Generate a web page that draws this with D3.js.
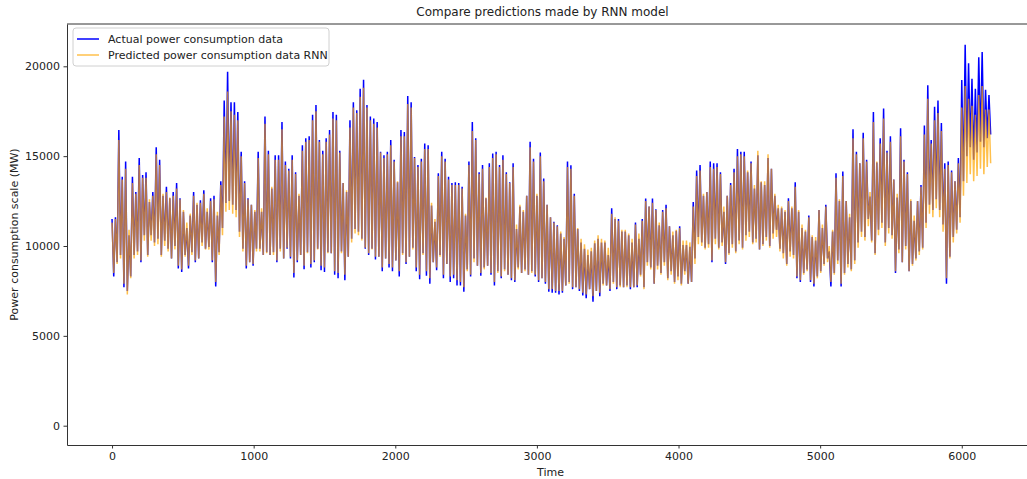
<!DOCTYPE html>
<html lang="en">
<head>
    <meta charset="UTF-8">
    <title>Compare predictions made by RNN model</title>
    <script src="https://d3js.org/d3.v7.min.js"></script>
    <style>
        body {
            margin: 0;
            background: #fff;
        }
        svg text {
            font-family: 'DejaVu Sans', sans-serif;
            fill: #222;
        }
        .axis path,
        .axis line {
            stroke: #333;
        }
        .axis text {
            font-size: 11px;
        }
        .actual {
            fill: none;
            stroke: #0000ff;
            stroke-width: 1.5;
        }
        .predicted {
            fill: none;
            stroke: #ffa500;
            stroke-width: 1.5;
            stroke-opacity: 0.7;
        }
    </style>
</head>
<body>
    <svg width="1027" height="479"></svg>

    <script>
        // one high and one low reading per day (24 time steps)
        const stepsPerDay = 24;

        const actualHigh = [
            11500, 11600, 16450, 13850, 14700, 10600, 13850, 13000, 14900, 13950,
            14100, 12450, 13000, 15500, 14800, 12800, 13300, 12650, 13000, 13500,
            12650, 11900, 11000, 11700, 13000, 12300, 12550, 13100, 11900, 12650,
            12800, 11700, 13600, 18100, 19700, 18000, 18000, 17450, 15250, 13600,
            12650, 12300, 11900, 15250, 11900, 17200, 15300, 13200, 15050, 15050,
            16900,
            14700, 14300, 15050, 14100, 12800, 15600, 16000, 16100, 17300, 17850,
            15900, 15300, 16000, 16450, 17450, 17300, 15300, 13500, 13000, 17000,
            18000, 17550, 18750, 19250, 17850, 17200, 17100, 16900, 15250, 15050,
            15250, 15900, 14800, 13550, 16450, 16350, 18350, 18000, 14950, 14500,
            14850, 15700, 15600, 12250, 11350, 14050, 15250, 14850, 13850, 13500,
            13550,
            13500, 13300, 11700, 14700, 16900, 16000, 14100, 14500, 12650, 14600,
            15150, 15250, 14500, 15050, 14100, 13550, 14600, 10950, 12200, 11900,
            12800, 15800, 14850, 12800, 15200, 13750, 12300, 11600, 11350, 11150,
            10700, 10400, 14700, 14500, 12900, 10950, 10200, 9850, 9500, 9700,
            10150, 10400, 10200, 10200, 9500, 12100, 11500, 11500, 10800, 10800,
            10600, 10200,
            11300, 10400, 11500, 12640, 12200, 12640, 12050, 11150, 12000, 12300,
            11100, 10600, 10850, 11100, 10050, 10050, 9950, 12450, 14200, 14500,
            12800, 13000, 14700, 14600, 14600, 14100, 11900, 12800, 13500, 14300,
            15400, 15250, 15250, 14100, 14700, 13200, 15050, 13550, 13400, 14900,
            14300, 12800, 12100, 12100, 11900, 12650, 12100, 13550, 11900, 11000,
            10800, 11700,
            10500, 10300, 12000, 11000, 12300, 9700, 10800, 14050, 12500, 14150,
            12500, 11600, 16500, 15250, 14600, 16300, 14800, 12750, 17450, 14650,
            16000, 17650, 15300, 16100, 13700, 12700, 16550, 14800, 14100, 12500,
            11400, 12500, 13400, 16700, 18950, 15900, 17750, 18100, 16850, 14600,
            14700, 14200, 13600, 14900, 19240, 21200, 20170, 19300, 18750, 20500,
            20800, 18700, 18400
        ];

        const actualLow = [
            8300, 9100, 9500, 7700, 7500, 8300, 9500, 9700, 9100, 10600,
            9500, 10600, 10200, 10400, 9500, 10300, 9850, 9300, 10000, 8750,
            8550, 9500, 8750, 9650, 9100, 9300, 10200, 9850, 9950, 9100,
            7750, 9650, 11000, 12400, 12500, 12300, 12000, 10800, 9850, 8750,
            9100, 8900, 9850, 9850, 9500, 9650, 9500, 9650, 9100, 9850,
            9300,
            9850, 9300, 8250, 9100, 9500, 8700, 9650, 8800, 9100, 9850,
            8650, 8550, 9650, 9600, 8400, 8200, 9700, 8100, 9400, 10400,
            10950, 10800, 10400, 9850, 9500, 9850, 9250, 9400, 8600, 9300,
            8800, 8600, 9200, 8300, 9600, 9000, 9400, 9900, 8600, 8150,
            9600, 8350, 7900, 9100, 8650, 9500, 8200, 9000, 8000, 8200,
            7800,
            7800, 7450, 8700, 8300, 9300, 8900, 8350, 8800, 8900, 8400,
            7800, 8600, 8200, 8700, 8400, 8100, 8000, 8800, 8500, 8700,
            8400, 8600, 8300, 8000, 8200, 7900, 7450, 7400, 7400, 7300,
            7400, 7800, 8000, 7600, 7700, 7500, 7250, 7100, 7600, 6900,
            7500, 7200, 7900, 7800, 7500, 8000, 7600, 7800, 7700, 7800,
            7600, 7700,
            7700, 8400, 7700, 9100, 8800, 7900, 8900, 8500, 9100, 8200,
            8600, 8000, 8300, 7900, 8600, 7900, 8000, 9300, 10500, 10200,
            9900, 10100, 9100, 10400, 9900, 10200, 9000, 9600, 10100, 9700,
            10300, 9900, 10600, 10800, 10200, 10400, 9800, 10100, 10500, 10000,
            10700, 10900, 9850, 9600, 9000, 9700, 9500, 8200, 8000, 8500,
            8700, 8000,
            7750, 8300, 8600, 9000, 9300, 7750, 8500, 9200, 7750, 8500,
            9000, 8700, 9200, 10200, 10800, 10500, 11500, 10300, 9600, 10900,
            11300, 10200, 11000, 10600, 8500, 9800, 9100, 10000, 8600, 9000,
            9300, 9700, 9900, 11300, 12300, 12000, 12600, 12000, 11200, 7900,
            9400, 10500, 10900, 11600, 13600, 15000, 15500, 14800, 15200, 15800,
            15500, 16000, 16200
        ];

        const predHigh = [
            11300, 11500, 15900, 13700, 14300, 10900, 13500, 12900, 14500, 13800,
            13800, 12600, 12800, 15100, 14500, 12900, 13000, 12700, 12800, 13200,
            12600, 12000, 11300, 11800, 12800, 12400, 12400, 12900, 12100, 12500,
            12600, 11900, 13400, 17200, 18600, 17500, 17300, 17000, 15000, 13500,
            12600, 12300, 12000, 14900, 12100, 16800, 15100, 13300, 14800, 14800,
            16500,
            14500, 14200, 14800, 14000, 12900, 15300, 15800, 15900, 17000, 17500,
            15800, 15100, 15800, 16200, 17100, 17000, 15200, 13500, 13100, 16600,
            17700, 17400, 18300, 18800, 17700, 17000, 16800, 16600, 15200, 14900,
            15100, 15600, 14700, 13600, 16100, 16100, 17900, 17700, 14900, 14400,
            14700, 15400, 15400, 12400, 11500, 13900, 15000, 14700, 13700, 13400,
            13400,
            13400, 13200, 11800, 14500, 16400, 15900, 14000, 14300, 12700, 14400,
            14900, 15100, 14400, 14800, 14000, 13500, 14400, 11200, 12300, 12000,
            12800, 15500, 14700, 12900, 15000, 13600, 12300, 11600, 11300, 11100,
            10800, 10500, 14400, 14300, 12800, 11000, 10400, 10100, 9800, 9900,
            10300, 10600, 10400, 10300, 9900, 11800, 11600, 11400, 10900, 10900,
            10700, 10400,
            11200, 10700, 11400, 12500, 12200, 12400, 12000, 11300, 11900, 12100,
            11100, 10800, 10900, 11000, 10300, 10300, 10200, 12200, 13900, 14200,
            12900, 13000, 14400, 14300, 14400, 14000, 12200, 12800, 13400, 14100,
            15000, 15100, 15000, 14200, 14600, 13400, 15300, 13600, 13600, 15100,
            14300, 12900, 12300, 12200, 12000, 12500, 12200, 13300, 12000, 11200,
            10900, 11600,
            10600, 10500, 12000, 11200, 12200, 10000, 10900, 13800, 12600, 13900,
            12500, 11800, 16000, 15100, 14600, 16000, 14700, 13000, 16900, 14700,
            15700, 17100, 15200, 15800, 13700, 12900, 16100, 14700, 14000, 12600,
            11700, 12500, 13300, 16200, 18200, 15700, 17000, 17400, 16400, 14300,
            14500, 14100, 13600, 14600, 17700, 18900, 18200, 17800, 17300, 18400,
            18900, 17600, 17600
        ];

        const predLow = [
            8500, 9000, 9300, 7900, 7300, 8200, 9300, 9500, 9200, 10300,
            9400, 10300, 10000, 10100, 9400, 10000, 9700, 9300, 9800, 8900,
            8700, 9400, 8900, 9500, 9200, 9300, 10000, 9800, 9800, 9200,
            8000, 9500, 10600, 11900, 12000, 11800, 11600, 10500, 9700, 8900,
            9100, 9000, 9700, 9700, 9500, 9600, 9500, 9500, 9200, 9700,
            9300,
            9900, 9400, 8500, 9200, 9500, 8900, 9600, 9000, 9200, 9800,
            8900, 8800, 9600, 9600, 8600, 8500, 9600, 8400, 9400, 10200,
            10700, 10600, 10300, 9900, 9600, 9800, 9400, 9400, 8800, 9300,
            9000, 8800, 9200, 8600, 9500, 9100, 9400, 9800, 8800, 8400,
            9500, 8600, 8200, 9100, 8800, 9400, 8400, 9000, 8300, 8400,
            8100,
            8000, 7700, 8600, 8400, 9100, 8900, 8500, 8700, 8900, 8500,
            8000, 8500, 8300, 8600, 8400, 8200, 8100, 8700, 8500, 8600,
            8400, 8500, 8400, 8100, 8200, 8000, 7600, 7600, 7500, 7500,
            7500, 7800, 7900, 7700, 7700, 7600, 7400, 7300, 7600, 7200,
            7500, 7400, 7800, 7800, 7600, 7900, 7700, 7700, 7700, 7700,
            7700, 7700,
            7800, 8300, 7600, 8900, 8700, 7900, 8700, 8400, 8900, 8100,
            8400, 7900, 8100, 7800, 8400, 7900, 8000, 9000, 10100, 10000,
            9800, 9900, 9200, 10100, 9800, 10000, 9100, 9500, 9900, 9600,
            10100, 9800, 10300, 10500, 10100, 10200, 9800, 10000, 10300, 9900,
            10400, 10500, 9700, 9300, 8900, 9400, 9300, 8300, 8100, 8400,
            8600, 8100,
            7900, 8200, 8500, 8900, 9100, 8000, 8400, 9000, 7900, 8400,
            8800, 8600, 9000, 9900, 10500, 10300, 11100, 10200, 9500, 10600,
            11000, 10000, 10700, 10400, 8600, 9600, 9100, 9800, 8600, 8900,
            9200, 9500, 9800, 11000, 11800, 11600, 12100, 11600, 10800, 8200,
            9300, 10200, 10700, 11300, 12800, 13500, 14000, 13600, 13900, 14300,
            14000, 14400, 14600
        ];

        const xTicks = [0, 1000, 2000, 3000, 4000, 5000, 6000];
        const yTicks = [0, 5000, 10000, 15000, 20000];

        const svg = d3.select("svg");

        // plot frame; right edge runs past the window like the original
        const frame = {left: 67, right: 1034, top: 24, bottom: 445};

        const x = d3.scaleLinear().domain([-318, 6510]).range([frame.left, frame.right]);
        const y = d3.scaleLinear().domain([-1074, 22354]).range([frame.bottom, frame.top]);

        // turn the daily readings into a time ordered series
        function toSeries(high, low) {
            const pts = [];
            high.forEach(function (h, i) {
                pts.push({t: i * stepsPerDay, v: h});
                pts.push({t: i * stepsPerDay + stepsPerDay / 2, v: low[i]});
            });
            return pts;
        }

        const actual = toSeries(actualHigh, actualLow);
        const predicted = toSeries(predHigh, predLow);

        const line = d3.line()
            .x(function (d) { return x(d.t); })
            .y(function (d) { return y(d.v); });

        svg.append("path")
            .datum(actual)
            .attr("class", "actual")
            .attr("d", line);

        svg.append("path")
            .datum(predicted)
            .attr("class", "predicted")
            .attr("d", line);

        // axes
        svg.append("g")
            .attr("class", "axis")
            .attr("transform", "translate(0," + frame.bottom + ")")
            .call(d3.axisBottom(x)
                .tickValues(xTicks)
                .tickFormat(d3.format("d"))
                .tickSizeInner(3.5)
                .tickSizeOuter(0)
                .tickPadding(3.5));

        svg.append("g")
            .attr("class", "axis")
            .attr("transform", "translate(" + frame.left + ",0)")
            .call(d3.axisLeft(y)
                .tickValues(yTicks)
                .tickFormat(d3.format("d"))
                .tickSizeInner(3.5)
                .tickSizeOuter(0)
                .tickPadding(3.5));

        svg.append("line")
            .attr("x1", frame.left).attr("x2", frame.right)
            .attr("y1", frame.top).attr("y2", frame.top)
            .attr("stroke", "#333");

        // labels
        const midX = (frame.left + frame.right) / 2;

        svg.append("text")
            .attr("x", midX - 8)
            .attr("y", 16)
            .attr("text-anchor", "middle")
            .style("font-size", "12px")
            .text("Compare predictions made by RNN model");

        svg.append("text")
            .attr("x", midX)
            .attr("y", 476)
            .attr("text-anchor", "middle")
            .style("font-size", "11px")
            .text("Time");

        svg.append("text")
            .attr("transform", "translate(18," + (frame.top + frame.bottom) / 2 + ") rotate(-90)")
            .attr("text-anchor", "middle")
            .style("font-size", "11px")
            .text("Power consumption scale (MW)");

        // legend
        const legend = svg.append("g").attr("transform", "translate(73,28)");

        legend.append("rect")
            .attr("width", 256)
            .attr("height", 38)
            .attr("rx", 3)
            .attr("fill", "#fff")
            .attr("fill-opacity", 0.8)
            .attr("stroke", "#d0d0d0");

        const legendItems = [
            {label: "Actual power consumption data", cls: "actual"},
            {label: "Predicted power consumption data RNN", cls: "predicted"}
        ];

        legendItems.forEach(function (d, i) {
            const row = legend.append("g").attr("transform", "translate(0," + (11 + i * 16) + ")");
            row.append("line")
                .attr("class", d.cls)
                .attr("x1", 4).attr("x2", 26);
            row.append("text")
                .attr("x", 35)
                .attr("dy", "0.35em")
                .style("font-size", "11px")
                .text(d.label);
        });
    </script>
</body>
</html>
